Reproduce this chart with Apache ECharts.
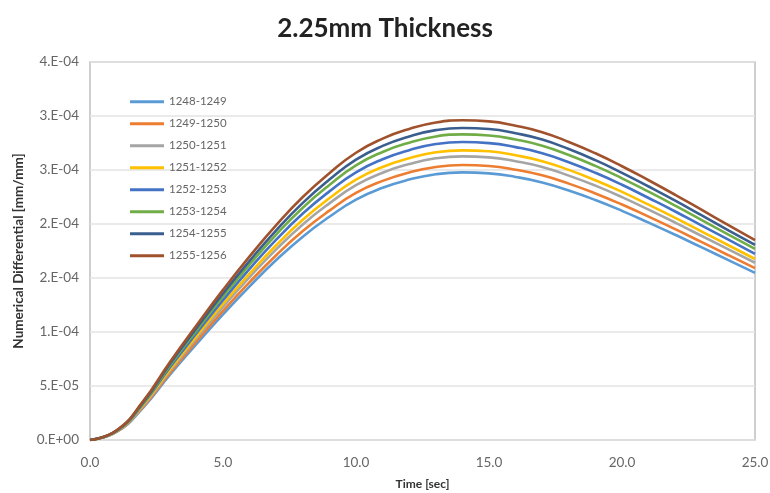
<!DOCTYPE html>
<html>
<head>
<meta charset="utf-8">
<script src="https://cdn.jsdelivr.net/npm/echarts@6/dist/echarts.min.js"></script>
<style>
  html, body { margin: 0; padding: 0; background: #fff; }
  #chart { width: 770px; height: 493px; }
</style>
</head>
<body>
<div id="chart"></div>
<script>
// time axis (sec)
const times = [0, 1, 2, 3, 4, 5, 6, 7, 8, 9, 10, 11, 12, 13, 14, 15, 16, 17, 18, 19, 20, 21, 22, 23, 24, 25]

// series names
const seriesNames = ['1248-1249', '1249-1250', '1250-1251', '1251-1252', '1252-1253', '1253-1254', '1254-1255', '1255-1256']

// values, in units of 1e-4 mm/mm
const s1248 = [0, 0.075, 0.301, 0.603, 0.887, 1.163, 1.423, 1.666, 1.883, 2.067, 2.226, 2.335, 2.411, 2.461, 2.478, 2.469, 2.436, 2.385, 2.310, 2.222, 2.122, 2.013, 1.900, 1.783, 1.666, 1.548]
const s1249 = [0, 0.077, 0.310, 0.619, 0.912, 1.195, 1.462, 1.711, 1.935, 2.124, 2.288, 2.399, 2.477, 2.528, 2.546, 2.537, 2.503, 2.451, 2.374, 2.283, 2.180, 2.068, 1.952, 1.832, 1.711, 1.591]
const s1250 = [0, 0.080, 0.319, 0.639, 0.940, 1.233, 1.508, 1.765, 1.996, 2.191, 2.359, 2.475, 2.555, 2.608, 2.626, 2.617, 2.581, 2.528, 2.448, 2.355, 2.249, 2.133, 2.013, 1.889, 1.765, 1.641]
const s1251 = [0, 0.082, 0.326, 0.652, 0.960, 1.259, 1.540, 1.803, 2.039, 2.238, 2.410, 2.528, 2.609, 2.664, 2.682, 2.673, 2.636, 2.582, 2.501, 2.405, 2.297, 2.179, 2.057, 1.930, 1.803, 1.676]
const s1252 = [0, 0.084, 0.336, 0.671, 0.988, 1.295, 1.584, 1.855, 2.097, 2.302, 2.479, 2.600, 2.684, 2.740, 2.759, 2.749, 2.712, 2.656, 2.572, 2.474, 2.363, 2.241, 2.116, 1.985, 1.855, 1.724]
const s1253 = [0, 0.086, 0.344, 0.688, 1.013, 1.329, 1.625, 1.902, 2.151, 2.361, 2.543, 2.667, 2.753, 2.811, 2.830, 2.820, 2.782, 2.725, 2.639, 2.538, 2.423, 2.299, 2.170, 2.036, 1.902, 1.769]
const s1254 = [0, 0.088, 0.351, 0.703, 1.035, 1.357, 1.659, 1.942, 2.196, 2.411, 2.596, 2.723, 2.811, 2.869, 2.889, 2.879, 2.840, 2.782, 2.694, 2.591, 2.474, 2.347, 2.216, 2.079, 1.942, 1.806]
const s1255 = [0, 0.090, 0.360, 0.720, 1.060, 1.390, 1.700, 1.990, 2.250, 2.470, 2.660, 2.790, 2.880, 2.940, 2.960, 2.950, 2.910, 2.850, 2.760, 2.655, 2.535, 2.405, 2.270, 2.130, 1.990, 1.850]

const seriesValues = [s1248, s1249, s1250, s1251, s1252, s1253, s1254, s1255]

// tick labels as printed (Excel "0.E+00" format)
const yTickLabels = ['0.E+00', '5.E-05', '1.E-04', '2.E-04', '2.E-04', '3.E-04', '3.E-04', '4.E-04']
const xTickLabels = ['0.0', '5.0', '10.0', '15.0', '20.0', '25.0']

const colors = ['#5B9BD5', '#ED7D31', '#A5A5A5', '#FFC000', '#4472C4', '#70AD47', '#3A5F8F', '#A0522D']

const yStep = 5e-5
const xStep = 5

const chart = echarts.init(document.getElementById('chart'))

const option = {
  animation: false,
  color: colors,
  title: {
    text: '2.25mm Thickness',
    left: 'center',
    top: 11,
    textStyle: {
      fontFamily: 'Lato',
      fontWeight: 'bold',
      fontSize: 26,
      color: '#222'
    }
  },
  grid: {
    left: 90,
    right: 15,
    top: 62,
    bottom: 53,
    outerBoundsMode: 'none',
    show: true,
    borderColor: '#bfbfbf',
    borderWidth: 1.5
  },
  legend: {
    orient: 'vertical',
    left: 125,
    top: 90,
    itemWidth: 34,
    itemHeight: 3,
    itemGap: 8.5,
    icon: 'rect',
    data: seriesNames,
    textStyle: {
      fontFamily: 'Lato',
      fontSize: 11.5,
      lineHeight: 13.5,
      color: '#666'
    }
  },
  xAxis: {
    type: 'value',
    min: 0,
    max: 25,
    interval: xStep,
    name: 'Time [sec]',
    nameLocation: 'middle',
    nameGap: 38,
    nameTextStyle: {
      fontFamily: 'Lato',
      fontWeight: 'bold',
      fontSize: 12,
      color: '#333'
    },
    axisLine: { show: false },
    axisTick: { show: false },
    splitLine: { show: false },
    axisLabel: {
      margin: 16,
      fontFamily: 'Lato',
      fontSize: 13.5,
      color: '#666',
      formatter: v => xTickLabels[Math.round(v / xStep)]
    }
  },
  yAxis: {
    type: 'value',
    min: 0,
    max: 3.5e-4,
    interval: yStep,
    name: 'Numerical Differential [mm/mm]',
    nameLocation: 'middle',
    nameGap: 64,
    nameTextStyle: {
      fontFamily: 'Lato',
      fontWeight: 'bold',
      fontSize: 13.5,
      color: '#333'
    },
    axisLine: { show: false },
    axisTick: { show: false },
    splitLine: { lineStyle: { color: '#e3e3e3', width: 1.5 } },
    axisLabel: {
      margin: 11,
      fontFamily: 'Lato',
      fontSize: 13.5,
      color: '#666',
      formatter: v => yTickLabels[Math.round(v / yStep)]
    }
  },
  series: seriesNames.map((name, i) => ({
    name,
    type: 'line',
    smooth: true,
    symbol: 'none',
    lineStyle: { width: 2.6 },
    data: times.map((t, j) => [t, seriesValues[i][j] * 1e-4])
  }))
}

chart.setOption(option)
</script>
</body>
</html>
